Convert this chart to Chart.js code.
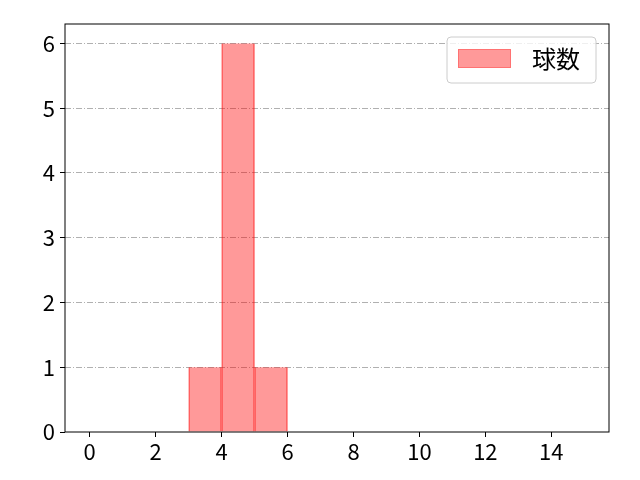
<!DOCTYPE html>
<html><head><meta charset="utf-8">
<script src="https://cdn.jsdelivr.net/npm/chart.js@4"></script>
<style>html,body{margin:0;padding:0;background:#fff}#wrap{width:640px;height:480px}</style>
</head><body><div id="wrap"><canvas id="c" width="640" height="480"></canvas></div>
<script>
const binStarts = [0,1,2,3,4,5,6,7,8,9,10,11,12,13,14];
const counts    = [0,0,0,1,6,1,0,0,0,0,0,0,0,0,0];
const xTicks = [0,2,4,6,8,10,12,14];
const yTicks = [0,1,2,3,4,5,6];
const seriesLabel = '球数';

const FONT = "'Noto Sans CJK JP', 'DejaVu Sans', sans-serif";
const frame = {
  id: 'frame',
  afterDraw(chart) {
    const {ctx, chartArea: a} = chart;
    ctx.save();
    ctx.strokeStyle = '#000'; ctx.lineWidth = 1;
    ctx.strokeRect(a.left, a.top, a.right - a.left, a.bottom - a.top);
    // legend
    const lx = 447, ly = 37, lw = 149, lh = 46, r = 4;
    ctx.fillStyle = 'rgba(255,255,255,0.8)';
    ctx.strokeStyle = '#cccccc';
    ctx.beginPath();
    ctx.roundRect(lx, ly, lw, lh, r);
    ctx.fill(); ctx.stroke();
    ctx.fillStyle = 'rgba(255,0,0,0.4)';
    ctx.fillRect(458, 49, 53, 19);
    ctx.strokeStyle = 'rgba(255,0,0,0.25)';
    ctx.strokeRect(458.5, 49.5, 52, 18);
    ctx.fillStyle = '#000';
    ctx.font = "24px " + FONT;
    ctx.textBaseline = 'middle';
    ctx.fillText(seriesLabel, 532, 59);
    ctx.restore();
  }
};

new Chart(document.getElementById('c'), {
  type: 'bar',
  data: {
    datasets: [{
      label: seriesLabel,
      data: binStarts.map((s, i) => ({x: s + 0.5, y: counts[i]})),
      backgroundColor: 'rgba(255,0,0,0.4)',
      borderColor: 'rgba(255,0,0,0.5)',
      borderWidth: {left:1, right:1, top:0, bottom:0},
      borderSkipped: false,
      barPercentage: 1.0,
      categoryPercentage: 1.0
    }]
  },
  options: {
    responsive: false,
    animation: false,
    layout: {padding: {left: 0, right: 31, top: 24, bottom: 0}},
    plugins: {legend: {display: false}, tooltip: {enabled: false}},
    scales: {
      x: {
        type: 'linear', min: -0.75, max: 15.75, offset: false,
        afterBuildTicks: s => { s.ticks = xTicks.map(v => ({value: v})); },
        afterFit: s => { s.height = 48; },
        grid: {offset: false, drawOnChartArea: false, drawTicks: true, tickLength: 5, tickColor: '#000'},
        border: {display: false},
        ticks: {color: '#000', font: {family: FONT, size: 22}, padding: 1, maxRotation: 0}
      },
      y: {
        min: 0, max: 6.3,
        afterBuildTicks: s => { s.ticks = yTicks.map(v => ({value: v})); },
        afterFit: s => { s.width = 65; },
        grid: {
          color: c => (c.tick && c.tick.value === 0) ? 'rgba(0,0,0,0)' : '#b0b0b0',
          lineWidth: 1, tickBorderDash: [],
          drawTicks: true, tickLength: 5, tickColor: '#000'
        },
        border: {display: false, dash: [6, 2, 1, 2]},
        ticks: {color: '#000', font: {family: FONT, size: 22}, padding: 5}
      }
    }
  },
  plugins: [frame]
});
</script></body></html>
